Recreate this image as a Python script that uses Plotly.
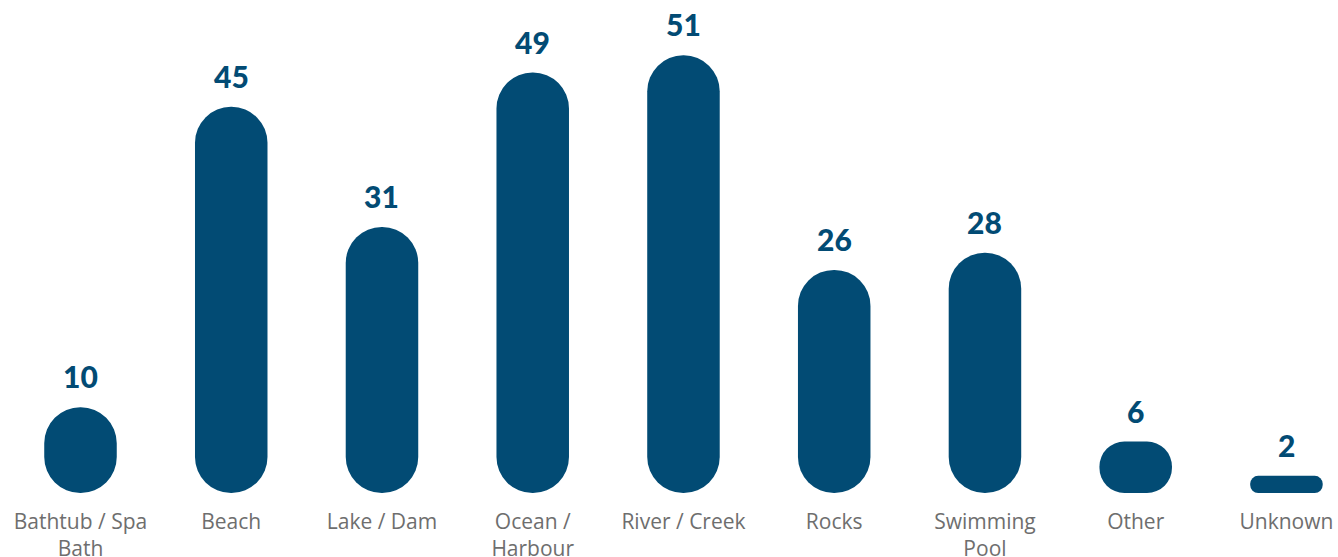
import plotly.graph_objects as go

categories = ["Bathtub / Spa", "Beach", "Lake / Dam", "Ocean / Harbour", "River / Creek",
              "Rocks", "Swimming Pool", "Other", "Unknown"]
tick_labels = ["Bathtub / Spa<br>Bath", "Beach", "Lake / Dam", "Ocean /<br>Harbour", "River / Creek",
               "Rocks", "Swimming<br>Pool", "Other", "Unknown"]
values = [10, 45, 31, 49, 51, 26, 28, 6, 2]

BAR_COLOR = "#024B74"
LABEL_COLOR = "#6e6e6e"

W, H = 1338, 557
MB = 64
plot_h = H - MB
Y_MAX = 57.45
ppu = plot_h / Y_MAX
BAR_W = 0.481
bar_px = BAR_W * 150.75

fig = go.Figure()
for cat, v in zip(categories, values):
    r = min(bar_px / 2, v * ppu / 2) - 0.01
    # explicit base -> all four corners rounded (pill shape)
    fig.add_trace(go.Bar(x=[cat], y=[v], base=[0], width=BAR_W,
                         marker=dict(color=BAR_COLOR, cornerradius=r, line=dict(width=0)),
                         hoverinfo="skip", showlegend=False))

for cat, v in zip(categories, values):
    fig.add_annotation(x=cat, y=v, text=str(v), showarrow=False, yanchor="bottom", yshift=11,
                       font=dict(family="Lato", size=30, color=BAR_COLOR, weight=900))

fig.update_layout(
    width=W, height=H, barmode="overlay",
    margin=dict(l=0, r=0, t=0, b=MB, autoexpand=False),
    paper_bgcolor="white", plot_bgcolor="white",
    xaxis=dict(type="category", categoryorder="array", categoryarray=categories,
               tickmode="array", tickvals=categories, ticktext=tick_labels,
               range=[-0.534, 8.342], showgrid=False, zeroline=False, showline=False,
               ticks="", ticklabelstandoff=14, automargin=False,
               tickfont=dict(family="Open Sans", size=21, color=LABEL_COLOR)),
    yaxis=dict(range=[0, Y_MAX], visible=False, showgrid=False, zeroline=False, automargin=False),
)

fig.write_html("out.html")
